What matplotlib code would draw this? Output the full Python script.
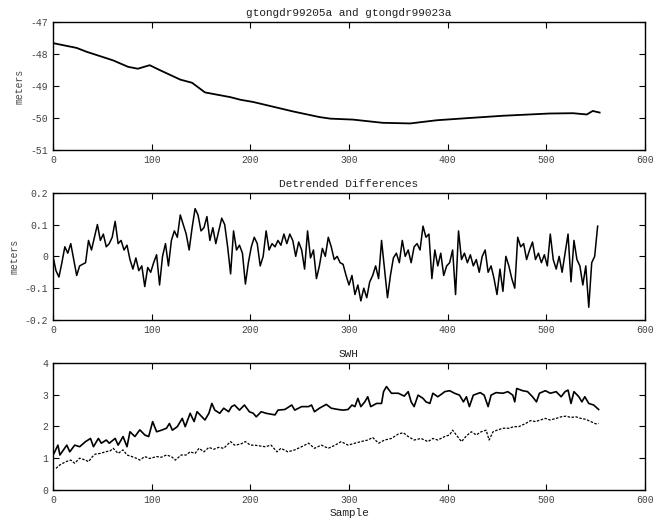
import numpy as np
import matplotlib
matplotlib.use("Agg")
import matplotlib.pyplot as plt

# ---------------- data ----------------
top_x = [0, 24, 34, 61, 76, 86, 98, 108, 129, 141, 154, 180, 190, 203, 244,
         270, 281, 304, 334, 362, 389, 422, 456, 503, 527, 541, 547, 554]
top_y = [-47.66, -47.81, -47.93, -48.20, -48.40, -48.46, -48.35, -48.50, -48.80,
         -48.90, -49.20, -49.35, -49.43, -49.50, -49.80, -49.97, -50.02, -50.05,
         -50.15, -50.17, -50.07, -50.00, -49.93, -49.86, -49.85, -49.89, -49.78,
         -49.83]

diff_step = 3
diff_y = [0.0, -0.045, -0.065, -0.02, 0.03, 0.01, 0.04, -0.01, -0.06, -0.03,
          -0.025, -0.02, 0.05, 0.02, 0.06, 0.10, 0.05, 0.07, 0.03, 0.04,
          0.06, 0.11, 0.04, 0.05, 0.02, 0.035, -0.01, -0.04, -0.005, -0.045,
          -0.03, -0.095, -0.035, -0.05, -0.02, 0.005, -0.09, 0.0, 0.04, -0.03,
          0.05, 0.08, 0.06, 0.13, 0.10, 0.07, 0.02, 0.09, 0.15, 0.13,
          0.08, 0.09, 0.125, 0.05, 0.09, 0.04, 0.08, 0.12, 0.10, 0.03,
          -0.055, 0.08, 0.02, 0.035, 0.01, -0.087, -0.02, 0.03, 0.06, 0.04,
          -0.03, 0.0, 0.08, 0.02, 0.04, 0.03, 0.05, 0.035, 0.07, 0.04,
          0.07, 0.05, 0.0, 0.045, 0.02, -0.04, 0.08, -0.005, 0.02, -0.07,
          -0.03, 0.025, 0.0, 0.06, 0.03, -0.01, 0.0, -0.02, -0.025, -0.06,
          -0.09, -0.06, -0.12, -0.09, -0.14, -0.10, -0.13, -0.08, -0.06, -0.03,
          -0.07, 0.05, -0.04, -0.13, -0.06, -0.005, 0.01, -0.02, 0.05, 0.0,
          0.02, -0.02, 0.03, 0.04, 0.02, 0.095, 0.06, 0.07, -0.07, 0.02,
          -0.03, 0.01, -0.06, -0.03, -0.02, 0.02, -0.12, 0.08, -0.01, 0.01,
          -0.02, 0.005, -0.03, -0.01, -0.05, 0.0, 0.02, -0.05, -0.03, -0.07,
          -0.12, -0.04, -0.11, 0.0, -0.03, -0.07, -0.10, 0.06, 0.03, 0.04,
          -0.01, 0.02, 0.045, -0.01, 0.01, -0.02, 0.005, -0.03, 0.07, -0.01,
          -0.04, 0.0, -0.05, 0.01, 0.07, -0.08, 0.05, -0.01, -0.03, -0.09,
          -0.03, -0.16, -0.02, 0.0, 0.095]

swh1_x = [1, 5, 7, 14, 17, 22, 27, 33, 38, 41, 46, 49, 54, 57, 63, 66, 71, 75, 78,
          83, 88, 93, 97, 101, 105, 110, 115, 118, 121, 126, 131, 134, 139, 143,
          146, 151, 154, 158, 161, 164, 169, 173, 178, 181, 184, 189, 194, 199,
          203, 206, 211, 216, 225, 228, 235, 242, 245, 252, 259, 262, 265, 270,
          277, 282, 289, 294, 299, 303, 306, 309, 312, 316, 319, 322, 328, 333,
          335, 338, 343, 350, 356, 360, 363, 366, 370, 375, 378, 382, 385, 390,
          395, 397, 402, 407, 412, 416, 419, 422, 426, 433, 437, 441, 444, 449,
          456, 461, 466, 468, 470, 476, 481, 486, 490, 493, 499, 504, 510, 515,
          519, 522, 525, 528, 533, 536, 539, 543, 548, 553]
swh1_y = [1.15, 1.41, 1.10, 1.41, 1.20, 1.41, 1.36, 1.52, 1.62, 1.36, 1.62, 1.47,
          1.57, 1.47, 1.62, 1.41, 1.68, 1.36, 1.83, 1.68, 1.89, 1.73, 1.68, 2.15,
          1.83, 1.88, 1.94, 2.09, 1.88, 1.99, 2.25, 1.99, 2.41, 2.15, 2.46, 2.30,
          2.20, 2.41, 2.72, 2.51, 2.41, 2.57, 2.46, 2.62, 2.67, 2.51, 2.67, 2.46,
          2.41, 2.30, 2.46, 2.41, 2.36, 2.51, 2.53, 2.67, 2.51, 2.62, 2.62, 2.67,
          2.46, 2.57, 2.69, 2.57, 2.53, 2.51, 2.53, 2.67, 2.62, 2.88, 2.62, 2.77,
          2.93, 2.62, 2.72, 2.72, 3.09, 3.25, 3.04, 3.04, 2.95, 3.09, 2.77, 2.62,
          2.98, 2.88, 2.77, 2.72, 3.04, 2.93, 3.04, 3.09, 3.12, 3.04, 2.98, 2.77,
          2.93, 2.62, 2.98, 3.06, 2.98, 2.62, 2.98, 3.06, 3.04, 3.09, 2.98, 2.77,
          3.19, 3.12, 3.09, 2.93, 2.77, 3.04, 3.12, 3.04, 3.09, 2.93, 3.09, 3.14,
          2.72, 3.09, 2.93, 2.77, 2.93, 2.72, 2.67, 2.53]

swh2_x = [3, 7, 13, 18, 22, 27, 33, 36, 40, 43, 48, 53, 58, 61, 66, 71, 75, 80, 85,
          88, 93, 98, 105, 110, 115, 120, 124, 130, 135, 139, 144, 148, 153, 158,
          163, 168, 173, 180, 184, 190, 195, 200, 204, 215, 221, 227, 231, 238,
          245, 252, 259, 265, 272, 279, 286, 292, 299, 306, 312, 319, 324, 330,
          336, 343, 350, 355, 360, 366, 373, 380, 385, 390, 397, 402, 405, 410,
          414, 419, 424, 429, 434, 439, 442, 446, 450, 456, 462, 467, 472, 479,
          484, 489, 494, 499, 504, 510, 515, 520, 525, 530, 535, 540, 545, 550, 553]
swh2_y = [0.68, 0.79, 0.89, 0.94, 0.84, 1.00, 0.94, 0.89, 1.05, 1.13, 1.15, 1.20,
          1.23, 1.31, 1.15, 1.26, 1.10, 1.05, 0.99, 0.94, 1.05, 0.99, 1.05, 1.03,
          1.10, 1.05, 0.94, 1.10, 1.10, 1.20, 1.15, 1.31, 1.20, 1.34, 1.28, 1.34,
          1.31, 1.52, 1.41, 1.44, 1.52, 1.41, 1.41, 1.36, 1.41, 1.20, 1.31, 1.20,
          1.26, 1.36, 1.47, 1.31, 1.41, 1.31, 1.41, 1.52, 1.41, 1.47, 1.52, 1.57,
          1.65, 1.47, 1.57, 1.62, 1.76, 1.80, 1.68, 1.57, 1.62, 1.52, 1.62, 1.57,
          1.68, 1.73, 1.88, 1.68, 1.52, 1.70, 1.83, 1.73, 1.83, 1.88, 1.57, 1.83,
          1.88, 1.94, 1.94, 1.99, 1.99, 2.09, 2.18, 2.15, 2.20, 2.25, 2.20, 2.25,
          2.30, 2.32, 2.28, 2.30, 2.25, 2.22, 2.15, 2.08, 2.09]

titles = ["gtongdr99205a and gtongdr99023a", "Detrended Differences", "SWH"]
x_ticks = [0, 100, 200, 300, 400, 500, 600]
top_ticks = [-51, -50, -49, -48, -47]
diff_ticks = [-0.2, -0.1, 0, 0.1, 0.2]
swh_ticks = [0, 1, 2, 3, 4]

# ---------------- plot ----------------
plt.rcParams['font.family'] = ['Liberation Mono', 'DejaVu Sans Mono']
txtc = '#444444'

fig = plt.figure(figsize=(6.56, 5.29), dpi=100)
W, H = 656, 529

def make_ax(top_px, bot_px):
    return fig.add_axes([53 / W, 1 - bot_px / H, 592 / W, (bot_px - top_px) / H])

ax1 = make_ax(22, 150)
ax2 = make_ax(192.7, 320)
ax3 = make_ax(362.7, 490)

ax1.plot(top_x, top_y, color='black', lw=1.3)
diff_x = np.arange(len(diff_y)) * diff_step
ax2.plot(diff_x, diff_y, color='black', lw=1.1)
ax3.plot(swh1_x, swh1_y, color='black', lw=1.2)
ax3.plot(swh2_x, swh2_y, color='black', lw=0.9, linestyle=(0, (2, 1.2)))

ax1.set_ylim(-51, -47)
ax1.set_yticks(top_ticks)
ax1.set_yticklabels([str(t) for t in top_ticks])
ax2.set_ylim(-0.2, 0.2)
ax2.set_yticks(diff_ticks)
ax2.set_yticklabels(['-0.2', '-0.1', '0', '0.1', '0.2'])
ax3.set_ylim(0, 4)
ax3.set_yticks(swh_ticks)

for ax, t in zip([ax1, ax2, ax3], titles):
    ax.set_xlim(0, 600)
    ax.set_xticks(x_ticks)
    ax.set_title(t, fontsize=8, color='#222222', pad=4)
    ax.tick_params(direction='in', top=True, right=True, labelsize=7,
                   colors='black', labelcolor=txtc, length=4, width=0.8)
    for s in ax.spines.values():
        s.set_linewidth(1.0)

ax1.set_ylabel('meters', fontsize=7, color=txtc, labelpad=4)
ax2.set_ylabel('meters', fontsize=7, color=txtc, labelpad=4)
ax3.set_xlabel('Sample', fontsize=8, color='#222222', labelpad=2)

fig.savefig('out.png', dpi=100)
